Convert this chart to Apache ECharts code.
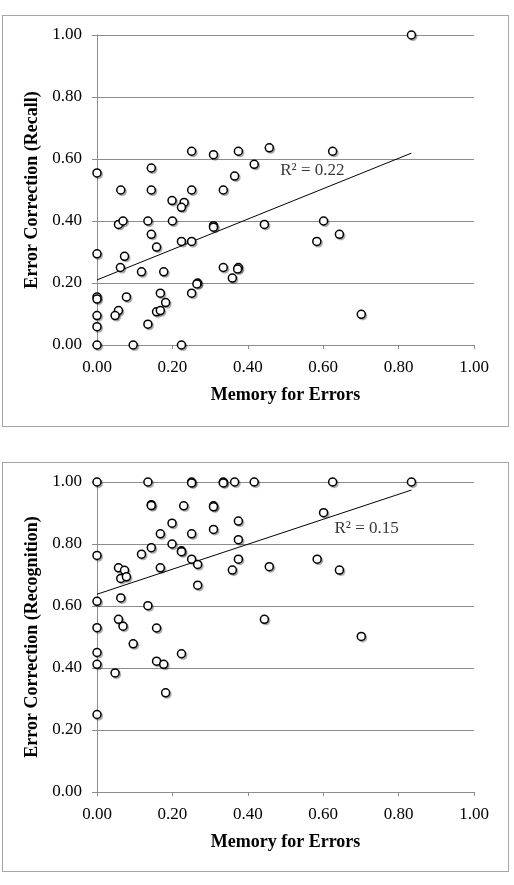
<!DOCTYPE html>
<html>
<head>
<meta charset="utf-8">
<script src="https://cdn.jsdelivr.net/npm/echarts@6/dist/echarts.min.js"></script>
<style>
  body { margin: 0; background: #fff; }
  .box { position: absolute; left: 2px; width: 505px; border: 1px solid #a6a6a6; }
  #recallBox { top: 15px; height: 410px; }
  #recogBox { top: 462px; height: 408px; }
</style>
</head>
<body>
<div class="box" id="recallBox"></div>
<div class="box" id="recogBox"></div>
<script>
// memory for errors (x) — same participants in both panels
var memoryRecall = [
  0.834, 0, 0.063, 0.144, 0.144, 0.199, 0.231, 0.224, 0.251, 0.251, 0.309, 0.335, 0.365, 0.375, 0.417, 0.457, 0.625,
  0.057, 0.069, 0.135, 0.2, 0.309, 0.309, 0.444, 0.601, 0.643, 0.583, 0, 0.144, 0.158, 0.224, 0.251,
  0.073, 0.062, 0.118, 0.177, 0.335, 0.375, 0.373, 0.359, 0.267, 0.265, 0.251, 0.168,
  0, 0, 0, 0, 0, 0.078, 0.057, 0.048, 0.135, 0.096, 0.224, 0.158, 0.168, 0.182, 0.701
];
var recall = [
  1.0, 0.555, 0.5, 0.571, 0.5, 0.466, 0.46, 0.444, 0.625, 0.5, 0.614, 0.5, 0.545, 0.625, 0.583, 0.636, 0.625,
  0.389, 0.4, 0.4, 0.4, 0.385, 0.38, 0.389, 0.4, 0.357, 0.334, 0.294, 0.357, 0.316, 0.334, 0.334,
  0.286, 0.25, 0.236, 0.236, 0.25, 0.25, 0.245, 0.216, 0.2, 0.197, 0.167, 0.167,
  0.155, 0.148, 0.095, 0.059, 0, 0.155, 0.111, 0.095, 0.067, 0, 0, 0.107, 0.111, 0.137, 0.099
];

var memoryRecog = [
  0, 0.135, 0.251, 0.251, 0.335, 0.335, 0.365, 0.417, 0.625, 0.834,
  0.144, 0.144, 0.23, 0.309, 0.309, 0.601, 0.375, 0.199, 0.168, 0.251, 0.309, 0.375, 0.199,
  0.224, 0.224, 0.144, 0.118, 0, 0.251, 0.375, 0.584, 0.267, 0.457, 0.359, 0.643,
  0.057, 0.073, 0.063, 0.078, 0.168, 0.267, 0, 0.063, 0.135, 0.057, 0.069, 0, 0.158,
  0.444, 0.701, 0.096, 0, 0.224, 0.158, 0.177, 0, 0.048, 0.182, 0
];
var recognition = [
  1, 1, 1, 0.997, 1, 0.997, 1, 1, 1, 1,
  0.927, 0.924, 0.923, 0.923, 0.92, 0.901, 0.874, 0.867, 0.833, 0.833, 0.847, 0.814, 0.8,
  0.778, 0.775, 0.788, 0.767, 0.763, 0.751, 0.751, 0.751, 0.734, 0.727, 0.716, 0.716,
  0.723, 0.715, 0.689, 0.694, 0.723, 0.667, 0.615, 0.626, 0.601, 0.557, 0.535, 0.53, 0.529,
  0.557, 0.502, 0.478, 0.45, 0.446, 0.422, 0.412, 0.412, 0.384, 0.32, 0.25
];

// trend lines (start, end)
var trendRecall = [[0, 0.21], [0.834, 0.619]];
var trendRecog = [[0, 0.638], [0.834, 0.974]];

var labelRecall = "R² = 0.22";
var labelRecog = "R² = 0.15";

var FONT = "Liberation Serif";

function pairs(xs, ys) {
  return xs.map((x, i) => [x, ys[i]]);
}

function makeChart(elId, pts, trend, r2Text, r2At, yName) {
  var chart = echarts.init(document.getElementById(elId), null, { renderer: "canvas" });
  chart.setOption({
    animation: false,
    grid: { left: 94, top: 19, width: 377, height: 310 },
    xAxis: {
      type: "value",
      min: 0,
      max: 1,
      interval: 0.2,
      name: "Memory for Errors",
      nameLocation: "middle",
      nameGap: 41,
      nameTextStyle: { fontFamily: FONT, fontSize: 18, fontWeight: "bold", color: "#000" },
      axisLine: { show: true, lineStyle: { color: "#8c8c8c", width: 1 } },
      axisTick: { show: true, length: 4, lineStyle: { color: "#8c8c8c" } },
      axisLabel: {
        margin: 14,
        fontFamily: FONT,
        fontSize: 17,
        color: "#000",
        formatter: (v) => v.toFixed(2),
      },
      splitLine: { show: false },
    },
    yAxis: {
      type: "value",
      min: 0,
      max: 1,
      interval: 0.2,
      name: yName,
      nameLocation: "middle",
      nameGap: 45,
      nameTextStyle: { fontFamily: FONT, fontSize: 18, fontWeight: "bold", color: "#000" },
      axisLine: { show: true, lineStyle: { color: "#8c8c8c", width: 1 } },
      axisTick: { show: true, length: 5, lineStyle: { color: "#8c8c8c" } },
      axisLabel: {
        margin: 15,
        fontFamily: FONT,
        fontSize: 17,
        color: "#000",
        formatter: (v) => v.toFixed(2),
      },
      splitLine: { show: true, lineStyle: { color: "#8c8c8c", width: 1 } },
    },
    series: [
      {
        name: "trend",
        type: "line",
        data: trend,
        symbol: "none",
        lineStyle: { color: "#000", width: 1 },
        z: 1,
      },
      {
        // soft drop shadow behind each marker
        name: "shadow",
        type: "scatter",
        data: pts,
        symbolSize: 9,
        symbolOffset: [1.5, 1.5],
        silent: true,
        itemStyle: {
          color: "rgba(0,0,0,0.35)",
          shadowColor: "rgba(0,0,0,0.4)",
          shadowBlur: 2,
        },
        z: 2,
      },
      {
        name: "points",
        type: "scatter",
        data: pts,
        symbol: "circle",
        symbolSize: 8,
        itemStyle: {
          color: "#fff",
          borderColor: "#000",
          borderWidth: 1.5,
          opacity: 1,
        },
        z: 3,
      },
      {
        name: "r2",
        type: "scatter",
        data: [r2At],
        symbolSize: 0,
        silent: true,
        label: {
          show: true,
          position: "right",
          distance: 0,
          formatter: r2Text,
          fontFamily: FONT,
          fontSize: 17,
          color: "#000",
        },
        z: 4,
      },
    ],
  });
  return chart;
}

window.onload = (_) => {
  makeChart("recallBox", pairs(memoryRecall, recall), trendRecall, labelRecall, [0.486, 0.563], "Error Correction (Recall)");
  makeChart("recogBox", pairs(memoryRecog, recognition), trendRecog, labelRecog, [0.63, 0.85], "Error Correction (Recognition)");
};
</script>
</body>
</html>
